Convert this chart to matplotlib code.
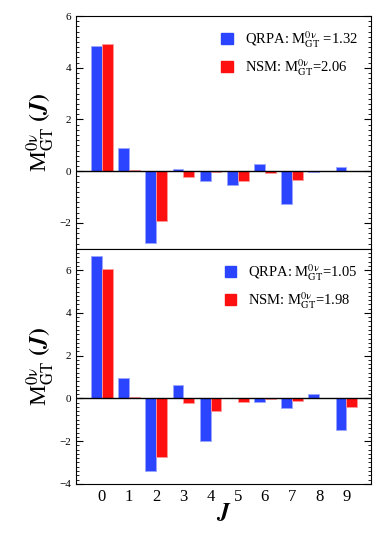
import numpy as np
import matplotlib
matplotlib.use("Agg")
import matplotlib.pyplot as plt
from matplotlib.patches import Patch
from matplotlib.ticker import MultipleLocator

plt.rcParams["font.family"] = "Liberation Serif"
plt.rcParams["mathtext.fontset"] = "stix"

J = np.arange(10)

# upper panel
qrpa_top = [4.85, 0.90, -2.76, 0.08, -0.38, -0.54, 0.27, -1.27, -0.02, 0.17]
nsm_top = [4.90, 0.04, -1.92, -0.24, -0.03, -0.36, -0.06, -0.32, 0.0, 0.0]
label_qrpa_top = r"QRPA: M$^{0\mathrm{\nu}}_{\rm GT}$ =1.32"
label_nsm_top = r"NSM: M$^{0\mathrm{\nu}}_{\rm GT}$=2.06"

# lower panel
qrpa_bot = [6.67, 0.95, -3.38, 0.61, -1.98, 0.04, -0.17, -0.47, 0.22, -1.46]
nsm_bot = [6.04, 0.06, -2.76, -0.20, -0.58, -0.19, -0.04, -0.11, 0.0, -0.39]
label_qrpa_bot = r"QRPA: M$^{0\mathrm{\nu}}_{\rm GT}$=1.05"
label_nsm_bot = r"NSM: M$^{0\mathrm{\nu}}_{\rm GT}$=1.98"

BLUE = "#2a44ff"
RED = "#ff1010"
W = 0.4


def draw_panel(ax, qrpa, nsm, lab_q, lab_n, ylim, yticks):
    ax.bar(J - W / 2, qrpa, W, color=BLUE, edgecolor="#9aa6ff", linewidth=0.6)
    ax.bar(J + W / 2, nsm, W, color=RED, edgecolor="#ff9a9a", linewidth=0.6)
    ax.axhline(0, color="black", linewidth=1)
    ax.set_xlim(-0.95, 9.9)
    ax.set_ylim(*ylim)
    ax.set_yticks(yticks)
    ax.yaxis.set_minor_locator(MultipleLocator(0.2))
    ax.tick_params(axis="y", which="both", direction="in", right=True,
                   labelsize=8)
    ax.tick_params(axis="y", which="major", length=5)
    ax.tick_params(axis="y", which="minor", length=2.5)
    ax.set_ylabel(r"M$^{0\mathrm{\nu}}_{\rm GT}$ $\boldsymbol{(J)}$",
                  fontsize=17, labelpad=2)
    handles = [Patch(color=BLUE, label=lab_q), Patch(color=RED, label=lab_n)]
    ax.legend(handles=handles, loc="upper right", frameon=False,
              fontsize=10.5, handlelength=0.8, handleheight=0.8,
              handletextpad=0.8, labelspacing=0.5,
              borderaxespad=0.5)


fig = plt.figure(figsize=(3.82, 5.34), dpi=100)
ax1 = fig.add_axes([0.199, 0.534, 0.772, 0.436])
ax2 = fig.add_axes([0.199, 0.094, 0.772, 0.440])

draw_panel(ax1, qrpa_top, nsm_top, label_qrpa_top, label_nsm_top,
           (-3, 6), [-2, 0, 2, 4, 6])
ax1.set_xticks([])

draw_panel(ax2, qrpa_bot, nsm_bot, label_qrpa_bot, label_nsm_bot,
           (-4, 7), [-4, -2, 0, 2, 4, 6])
ax2.set_xticks(J)
ax2.tick_params(axis="x", length=0, labelsize=12, pad=4)
ax2.set_xlabel(r"$\boldsymbol{J}$", fontsize=17, labelpad=-2)

fig.savefig("out.png", dpi=100)
